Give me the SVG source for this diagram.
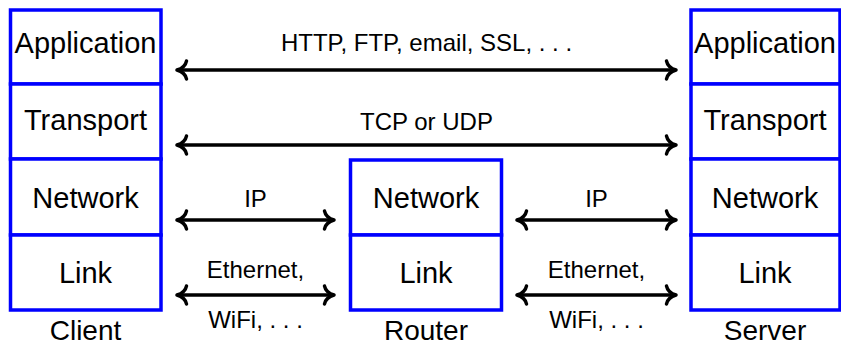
<svg xmlns="http://www.w3.org/2000/svg" width="841" height="346" viewBox="0 0 841 346">
  <style>
    .layer { fill: #ffffff; stroke: #0000ff; stroke-width: 3.5; }
    .lbl { font-family: "Liberation Sans", Arial, sans-serif; font-size: 29px; fill: #000000; text-anchor: middle; }
    .name { font-family: "Liberation Sans", Arial, sans-serif; font-size: 28px; fill: #000000; text-anchor: middle; }
    .proto { font-family: "Liberation Sans", Arial, sans-serif; font-size: 24px; fill: #000000; text-anchor: middle; }
    .conn { fill: none; stroke: #000000; stroke-width: 3.5; marker-start: url(#arr); marker-end: url(#arr); }
  </style>
  <defs>
    <marker id="arr" viewBox="-14 -12 18 24" refX="0" refY="0" markerWidth="18" markerHeight="24" markerUnits="userSpaceOnUse" orient="auto-start-reverse">
      <path d="M -9.5,-9 C -8.5,-4 -3.5,-1 0,0 C -3.5,1 -8.5,4 -9.5,9" fill="none" stroke="#000000" stroke-width="3.5" stroke-linecap="round" stroke-linejoin="round"/>
    </marker>
  </defs>
  <rect width="841" height="346" fill="#ffffff"/>

  <g id="client">
    <rect class="layer" x="10.5" y="10" width="150.5" height="74"/>
    <rect class="layer" x="10.5" y="84" width="150.5" height="75"/>
    <rect class="layer" x="10.5" y="159" width="150.5" height="76"/>
    <rect class="layer" x="10.5" y="235" width="150.5" height="75"/>
    <text class="lbl" x="85.5" y="53">Application</text>
    <text class="lbl" x="85.5" y="130">Transport</text>
    <text class="lbl" x="85.5" y="208">Network</text>
    <text class="lbl" x="85.5" y="283">Link</text>
    <text class="name" x="85.5" y="340">Client</text>
  </g>

  <g id="router">
    <rect class="layer" x="350.5" y="160" width="151" height="75"/>
    <rect class="layer" x="350.5" y="235" width="151" height="75"/>
    <text class="lbl" x="426" y="208">Network</text>
    <text class="lbl" x="426" y="283">Link</text>
    <text class="name" x="426" y="340">Router</text>
  </g>

  <g id="server">
    <rect class="layer" x="691" y="10" width="149" height="74"/>
    <rect class="layer" x="691" y="84" width="149" height="75"/>
    <rect class="layer" x="691" y="159" width="149" height="76"/>
    <rect class="layer" x="691" y="235" width="149" height="75"/>
    <text class="lbl" x="765" y="53">Application</text>
    <text class="lbl" x="765" y="130">Transport</text>
    <text class="lbl" x="765" y="208">Network</text>
    <text class="lbl" x="765" y="283">Link</text>
    <text class="name" x="765" y="340">Server</text>
  </g>

  <g id="connectors">
    <path class="conn" d="M 177,70 L 676,70"/>
    <path class="conn" d="M 177,145 L 676,145"/>
    <path class="conn" d="M 177,220 L 334,220"/>
    <path class="conn" d="M 517,220 L 676,220"/>
    <path class="conn" d="M 177,295 L 334,295"/>
    <path class="conn" d="M 517,295 L 676,295"/>
    <text class="proto" x="426.5" y="51">HTTP, FTP, email, SSL, . . .</text>
    <text class="proto" x="426.5" y="130">TCP or UDP</text>
    <text class="proto" x="255.5" y="207">IP</text>
    <text class="proto" x="596.5" y="207">IP</text>
    <text class="proto" x="255.5" y="278">Ethernet,</text>
    <text class="proto" x="255.5" y="328">WiFi, . . .</text>
    <text class="proto" x="596.5" y="278">Ethernet,</text>
    <text class="proto" x="596.5" y="328">WiFi, . . .</text>
  </g>
</svg>
